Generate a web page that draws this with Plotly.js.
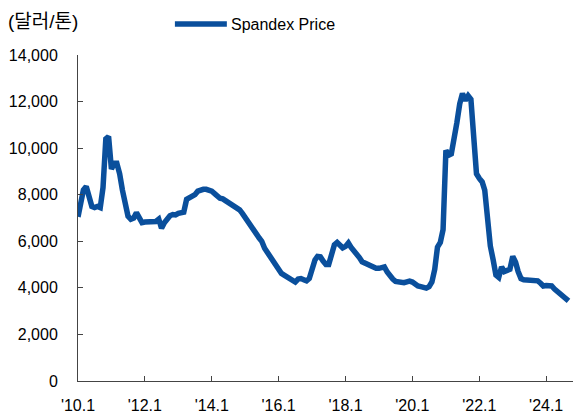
<!DOCTYPE html>
<html>
<head>
<meta charset="utf-8">
<script src="https://cdn.plot.ly/plotly-3.0.1.min.js"></script>
<style>
html,body{margin:0;padding:0;background:#fff;}
#chart{width:582px;height:419px;}
</style>
</head>
<body>
<div id="chart"></div>
<script>
// Monthly series starting 2010-01
const startYear = 2010;
const startMonth = 1;
const seriesName = "Spandex Price";
const unitLabel = "(달러/톤)";
const prices = [
  7050, 7600, 8200, 8350, 8000, 7500, 7450, 7500, 7450, 8300,
  10400, 10500, 9100, 9350, 9350, 8900, 8200, 7450, 7080, 6950,
  7000, 7230, 7000, 6800, 6830, 6850, 6850, 6880, 6850, 6950,
  6560, 6800, 6950, 7100, 7150, 7130, 7200, 7200, 7250, 7800,
  7850, 7950, 8000, 8150, 8200, 8230, 8230, 8200, 8150, 8050,
  7920, 7850, 7820, 7750, 7650, 7560, 7500, 7470, 7350, 7200,
  7000, 6850, 6650, 6450, 6330, 6150, 6000, 5700, 5500, 5380,
  5200, 4920, 4750, 4620, 4550, 4480, 4350, 4300, 4250, 4380,
  4400, 4350, 4300, 4400, 4800, 5200, 5350, 5330, 5150, 5000,
  5000, 5450, 5850, 5950, 5800, 5720, 5780, 5930, 5750, 5620,
  5450, 5300, 5120, 5050, 4990, 4950, 4870, 4840, 4840, 4880,
  4900, 4680, 4500, 4380, 4280, 4250, 4230, 4220, 4260, 4290,
  4250, 4130, 4080, 4050, 4000, 3990, 4050, 4250, 4800, 5750,
  5950, 6500, 9900, 9700, 9750, 10300, 11100, 11900, 12350, 12050,
  12250, 12100, 10500, 8900, 8700, 8550, 8200, 6900, 5800, 5200,
  4550, 4450, 4900, 4700, 4750, 4800, 5350, 5100, 4700, 4400,
  4350, 4340, 4340, 4330, 4350, 4300, 4200, 4080, 4100, 4100,
  4080, 3950, 3850, 3700, 3580, 3500, 3440
];
const tickDates = ["2010-01-01","2012-01-01","2014-01-01","2016-01-01","2018-01-01","2020-01-01","2022-01-01","2024-01-01"];
const tickLabels = ["'10.1","'12.1","'14.1","'16.1","'18.1","'20.1","'22.1","'24.1"];
const yTickVals = [0,2000,4000,6000,8000,10000,12000,14000];
const yTickLabels = ["0","2,000","4,000","6,000","8,000","10,000","12,000","14,000"];

const dates = prices.map((_, i) => {
  const t = (startMonth - 1) + i;
  const y = startYear + Math.floor(t / 12);
  const m = (t % 12) + 1;
  return y + "-" + String(m).padStart(2, "0") + "-01";
});

const color = "#0a4f9c";
const font = "Liberation Sans, Arial, sans-serif";

const trace = {
  x: dates, y: prices, type: "scatter", mode: "lines", name: seriesName,
  line: {color: color, width: 5.5, shape: "linear"},
  showlegend: false, hoverinfo: "skip"
};

const layout = {
  width: 582, height: 419,
  margin: {l: 78, r: 8.5, t: 55, b: 38},
  paper_bgcolor: "#fff", plot_bgcolor: "#fff",
  font: {family: font, size: 16, color: "#000"},
  xaxis: {
    type: "date", range: ["2010-01-01", "2024-10-20"],
    tickvals: tickDates, ticktext: tickLabels,
    ticks: "inside", ticklen: 5, tickcolor: "#444", tickwidth: 1,
    showline: true, linecolor: "#444", linewidth: 1,
    showgrid: false, zeroline: false,
    tickfont: {family: font, size: 16, color: "#000"},
    ticklabelstandoff: 10
  },
  yaxis: {
    range: [0, 14000], tickvals: yTickVals, ticktext: yTickLabels,
    ticks: "inside", ticklen: 5, tickcolor: "#444", tickwidth: 1,
    showline: true, linecolor: "#444", linewidth: 1,
    showgrid: false, zeroline: false,
    tickfont: {family: font, size: 16, color: "#000"},
    ticklabelstandoff: 16
  },
  shapes: [{
    type: "line", xref: "paper", yref: "paper",
    x0: (175 - 78) / 495.5, x1: (227 - 78) / 495.5,
    y0: (381 - 24) / 326, y1: (381 - 24) / 326,
    line: {color: color, width: 5.5}
  }],
  annotations: [
    {text: unitLabel, xref: "paper", yref: "paper",
     x: (6 - 78) / 495.5, y: (381 - 22) / 326, xanchor: "left", yanchor: "middle",
     showarrow: false, font: {family: "Liberation Sans, Noto Sans CJK KR, sans-serif", size: 19, color: "#000"}},
    {text: seriesName, xref: "paper", yref: "paper",
     x: (229 - 78) / 495.5, y: (381 - 24) / 326, xanchor: "left", yanchor: "middle",
     showarrow: false, font: {family: font, size: 16, color: "#000"}}
  ]
};

Plotly.newPlot("chart", [trace], layout, {displayModeBar: false, staticPlot: true});
</script>
</body>
</html>
